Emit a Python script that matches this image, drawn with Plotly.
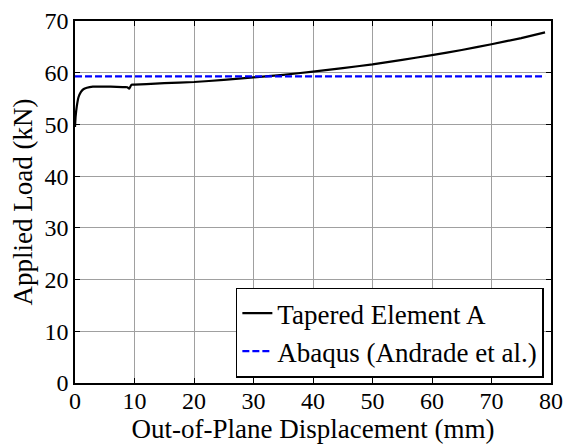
import plotly.graph_objects as go

# Tapered Element A curve
disp_mm = [0.0, 0.1, 0.3, 0.6, 1.0, 1.4, 2.0, 3.0, 4.0, 6.0, 8.0, 8.8, 9.1, 9.5, 10.0, 12.0, 15.0,
           20.0, 25.0, 30.0, 35.0, 40.0, 45.0, 50.0, 55.0, 60.0, 65.0, 70.0, 75.0, 79.0]
load_kN = [49.5, 51.5, 53.5, 55.3, 56.3, 56.8, 57.1, 57.3, 57.3, 57.3, 57.2, 57.2, 56.9, 57.7, 57.7, 57.8, 58.0,
           58.2, 58.6, 59.1, 59.6, 60.2, 60.9, 61.6, 62.5, 63.4, 64.4, 65.5, 66.7, 67.8]

# Abaqus reference
abaqus_x = [0.0, 79.0]
abaqus_y = [59.3, 59.3]

x_ticks = [0, 10, 20, 30, 40, 50, 60, 70, 80]
y_ticks = [0, 10, 20, 30, 40, 50, 60, 70]

FONT = "Liberation Serif"
FS_TICK = 24
FS = 27

fig = go.Figure()
fig.add_trace(go.Scatter(x=disp_mm, y=load_kN, mode="lines", name="Tapered Element A",
                         line=dict(color="black", width=2.2, shape="spline", smoothing=0.3)))
fig.add_trace(go.Scatter(x=abaqus_x, y=abaqus_y, mode="lines", name="Abaqus (Andrade et al.)",
                         line=dict(color="#0000ff", width=2.2, dash="7px,3px")))

axis_common = dict(showline=True, linecolor="black", linewidth=1.5, mirror="ticks",
                   ticks="inside", ticklen=5, tickcolor="black", showgrid=True,
                   gridcolor="#a0a0a0", gridwidth=1, zeroline=False,
                   tickfont=dict(family=FONT, size=FS_TICK, color="black"))

fig.update_layout(
    width=566, height=444,
    margin=dict(l=75, r=15, t=21, b=61, autoexpand=False),
    paper_bgcolor="white", plot_bgcolor="white",
    font=dict(family=FONT, color="black"),
    xaxis=dict(range=[0, 80], tickvals=x_ticks, ticklabelstandoff=-5,
               title=dict(text="Out-of-Plane Displacement (mm)", font=dict(family=FONT, size=FS), standoff=0),
               **axis_common),
    yaxis=dict(range=[0, 70], tickvals=y_ticks,
               title=dict(text="Applied Load (kN)", font=dict(family=FONT, size=FS), standoff=4),
               **axis_common),
    legend=dict(x=0.985, y=0.015, xanchor="right", yanchor="bottom",
                bgcolor="white", bordercolor="black", borderwidth=1.5,
                font=dict(family=FONT, size=FS, color="black"),
                tracegroupgap=0),
    showlegend=True,
)

fig.write_html("out.html", config={"displayModeBar": False})

with open("out.html", "r", encoding="utf-8") as f:
    html = f.read()
html = html.replace("<head>", "<head><style>html,body{margin:0;padding:0;overflow:hidden;}</style>", 1)
with open("out.html", "w", encoding="utf-8") as f:
    f.write(html)
